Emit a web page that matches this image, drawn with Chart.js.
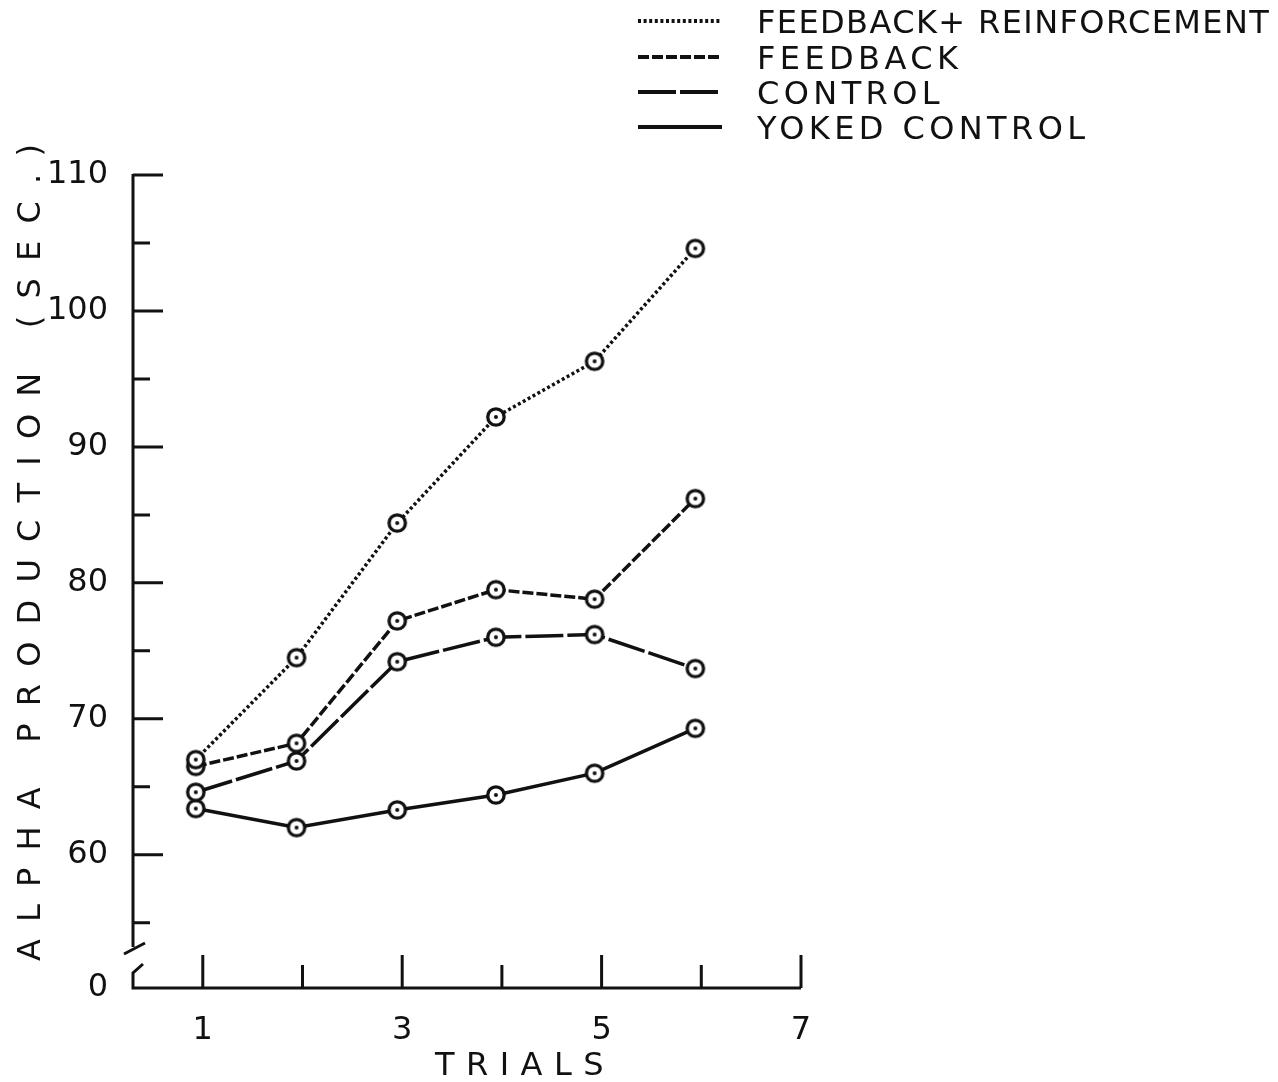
<!DOCTYPE html>
<html><head><meta charset="utf-8">
<script src="https://cdn.jsdelivr.net/npm/chart.js@4.4.1/dist/chart.umd.min.js"></script>
<style>html,body{margin:0;padding:0;background:#fff;}canvas{display:block;}</style>
</head><body>
<canvas id="c" width="1278" height="1082"></canvas>
<script>
// ---- data ----
const seriesNames = ['FEEDBACK+ REINFORCEMENT', 'FEEDBACK', 'CONTROL', 'YOKED CONTROL'];
const trialPositions = [0.93, 1.94, 2.95, 3.94, 4.93, 5.94];
const feedbackReinforcement = [67.0, 74.5, 84.4, 92.2, 96.3, 104.6];
const feedback = [66.5, 68.2, 77.2, 79.5, 78.8, 86.2];
const control = [64.6, 66.9, 74.2, 76.0, 76.2, 73.7];
const yokedControl = [63.4, 62.0, 63.3, 64.4, 66.0, 69.3];
const xTickValues = [1, 2, 3, 4, 5, 6, 7];
const xTickLabels = ['1', '', '3', '', '5', '', '7'];
const yTickValues = [55, 60, 65, 70, 75, 80, 85, 90, 95, 100, 105, 110];
const yTickLabels = ['', '60', '', '70', '', '80', '', '90', '', '100', '', '110'];
const yAxisBottom = 50.2;
const yOriginLabel = '0';
const yAxisTitle = 'ALPHA PRODUCTION (SEC.)';
const xAxisTitle = 'TRIALS';

// ---- styling ----
const INK = '#111';
const FONT = '"DejaVu Sans", "Liberation Sans", sans-serif';
const seriesValues = [feedbackReinforcement, feedback, control, yokedControl];
const seriesDashes = [[3, 2.6], [11, 3], [38, 4], []];

function makeMarker() {
  const c = document.createElement('canvas');
  c.width = c.height = 26;
  const g = c.getContext('2d');
  g.beginPath(); g.arc(13, 13, 8.2, 0, Math.PI * 2);
  g.fillStyle = '#fff'; g.fill();
  g.lineWidth = 3.3; g.strokeStyle = INK; g.stroke();
  g.beginPath(); g.arc(13, 13, 2, 0, Math.PI * 2);
  g.fillStyle = INK; g.fill();
  return c;
}
const marker = makeMarker();

const paperAxes = {
  id: 'paperAxes',
  afterDraw(chart) {
    const ctx = chart.ctx;
    const {left, right, top, bottom} = chart.chartArea;
    const xs = chart.scales.x, ys = chart.scales.y;
    ctx.save();
    ctx.strokeStyle = INK; ctx.fillStyle = INK;
    ctx.lineWidth = 3; ctx.lineCap = 'butt'; ctx.setLineDash([]);
    // y axis (broken near the bottom)
    ctx.beginPath();
    ctx.moveTo(left, top - 1); ctx.lineTo(left, bottom - 41);
    ctx.moveTo(left - 9, bottom - 34); ctx.lineTo(left + 12, bottom - 45);
    ctx.moveTo(left + 10, bottom - 24); ctx.lineTo(left, bottom - 15); ctx.lineTo(left, bottom);
    ctx.lineTo(right, bottom);
    ctx.stroke();
    // y tick marks (inward)
    ctx.beginPath();
    yTickValues.forEach((v, i) => {
      const py = ys.getPixelForValue(v);
      const len = yTickLabels[i] ? 30 : 17;
      ctx.moveTo(left, py); ctx.lineTo(left + len, py);
    });
    // x tick marks (upward)
    xTickValues.forEach((v, i) => {
      const px = xs.getPixelForValue(v);
      const len = xTickLabels[i] ? 33 : 23;
      ctx.moveTo(px, bottom); ctx.lineTo(px, bottom - len);
    });
    ctx.stroke();

    // axis titles
    ctx.font = '32px ' + FONT;
    ctx.textBaseline = 'alphabetic';
    ctx.textAlign = 'center';
    ctx.letterSpacing = '11.5px';
    ctx.fillText(xAxisTitle, 525, 1075);
    ctx.save();
    ctx.translate(40, 544);
    ctx.rotate(-Math.PI / 2);
    ctx.letterSpacing = '17.2px';
    ctx.fillText(yAxisTitle, 0, 0);
    ctx.restore();

    // legend
    const rowsY = [21, 57, 92, 127];
    chart.data.datasets.forEach((ds, i) => {
      const y = rowsY[i];
      ctx.beginPath();
      ctx.lineWidth = 4;
      ctx.setLineDash(ds.borderDash || []);
      ctx.moveTo(638, y); ctx.lineTo(722, y);
      ctx.stroke();
      ctx.setLineDash([]);
      ctx.textAlign = 'left';
      ctx.letterSpacing = i === 0 ? '1.4px' : '4.4px';
      ctx.fillText(ds.label, 757, y + 12);
    });
    ctx.restore();
  }
};

new Chart(document.getElementById('c'), {
  type: 'line',
  data: {
    datasets: seriesValues.map((vals, i) => ({
      label: seriesNames[i],
      data: trialPositions.map((x, j) => ({x, y: vals[j]})),
      borderColor: INK,
      borderWidth: 3.5,
      borderDash: seriesDashes[i],
      pointStyle: marker,
      pointRadius: 9,
      pointHoverRadius: 9,
      tension: 0,
      fill: false
    }))
  },
  options: {
    responsive: false,
    animation: false,
    devicePixelRatio: 1,
    layout: {padding: {top: 175, right: 477, left: 0, bottom: 0}},
    plugins: {legend: {display: false}, tooltip: {enabled: false}},
    scales: {
      x: {
        type: 'linear', min: 0.3, max: 7,
        grid: {display: false}, border: {display: false},
        afterBuildTicks: s => { s.ticks = xTickValues.map(v => ({value: v})); },
        afterFit: s => { s.height = 94; },
        ticks: {
          autoSkip: false, maxRotation: 0, padding: 15, color: INK,
          font: {family: FONT, size: 32},
          callback: v => { const k = xTickValues.indexOf(v); return k >= 0 ? xTickLabels[k] : ''; }
        }
      },
      y: {
        type: 'linear', min: yAxisBottom, max: 110,
        grid: {display: false}, border: {display: false},
        afterBuildTicks: s => { s.ticks = [{value: yAxisBottom}].concat(yTickValues.map(v => ({value: v}))); },
        afterFit: s => { s.width = 133; },
        ticks: {
          autoSkip: false, padding: 17, color: INK,
          font: {family: FONT, size: 32},
          callback: v => {
            if (v === yAxisBottom) return yOriginLabel;
            const k = yTickValues.indexOf(v); return k >= 0 ? yTickLabels[k] : '';
          }
        }
      }
    }
  },
  plugins: [paperAxes]
});
</script>
</body></html>
